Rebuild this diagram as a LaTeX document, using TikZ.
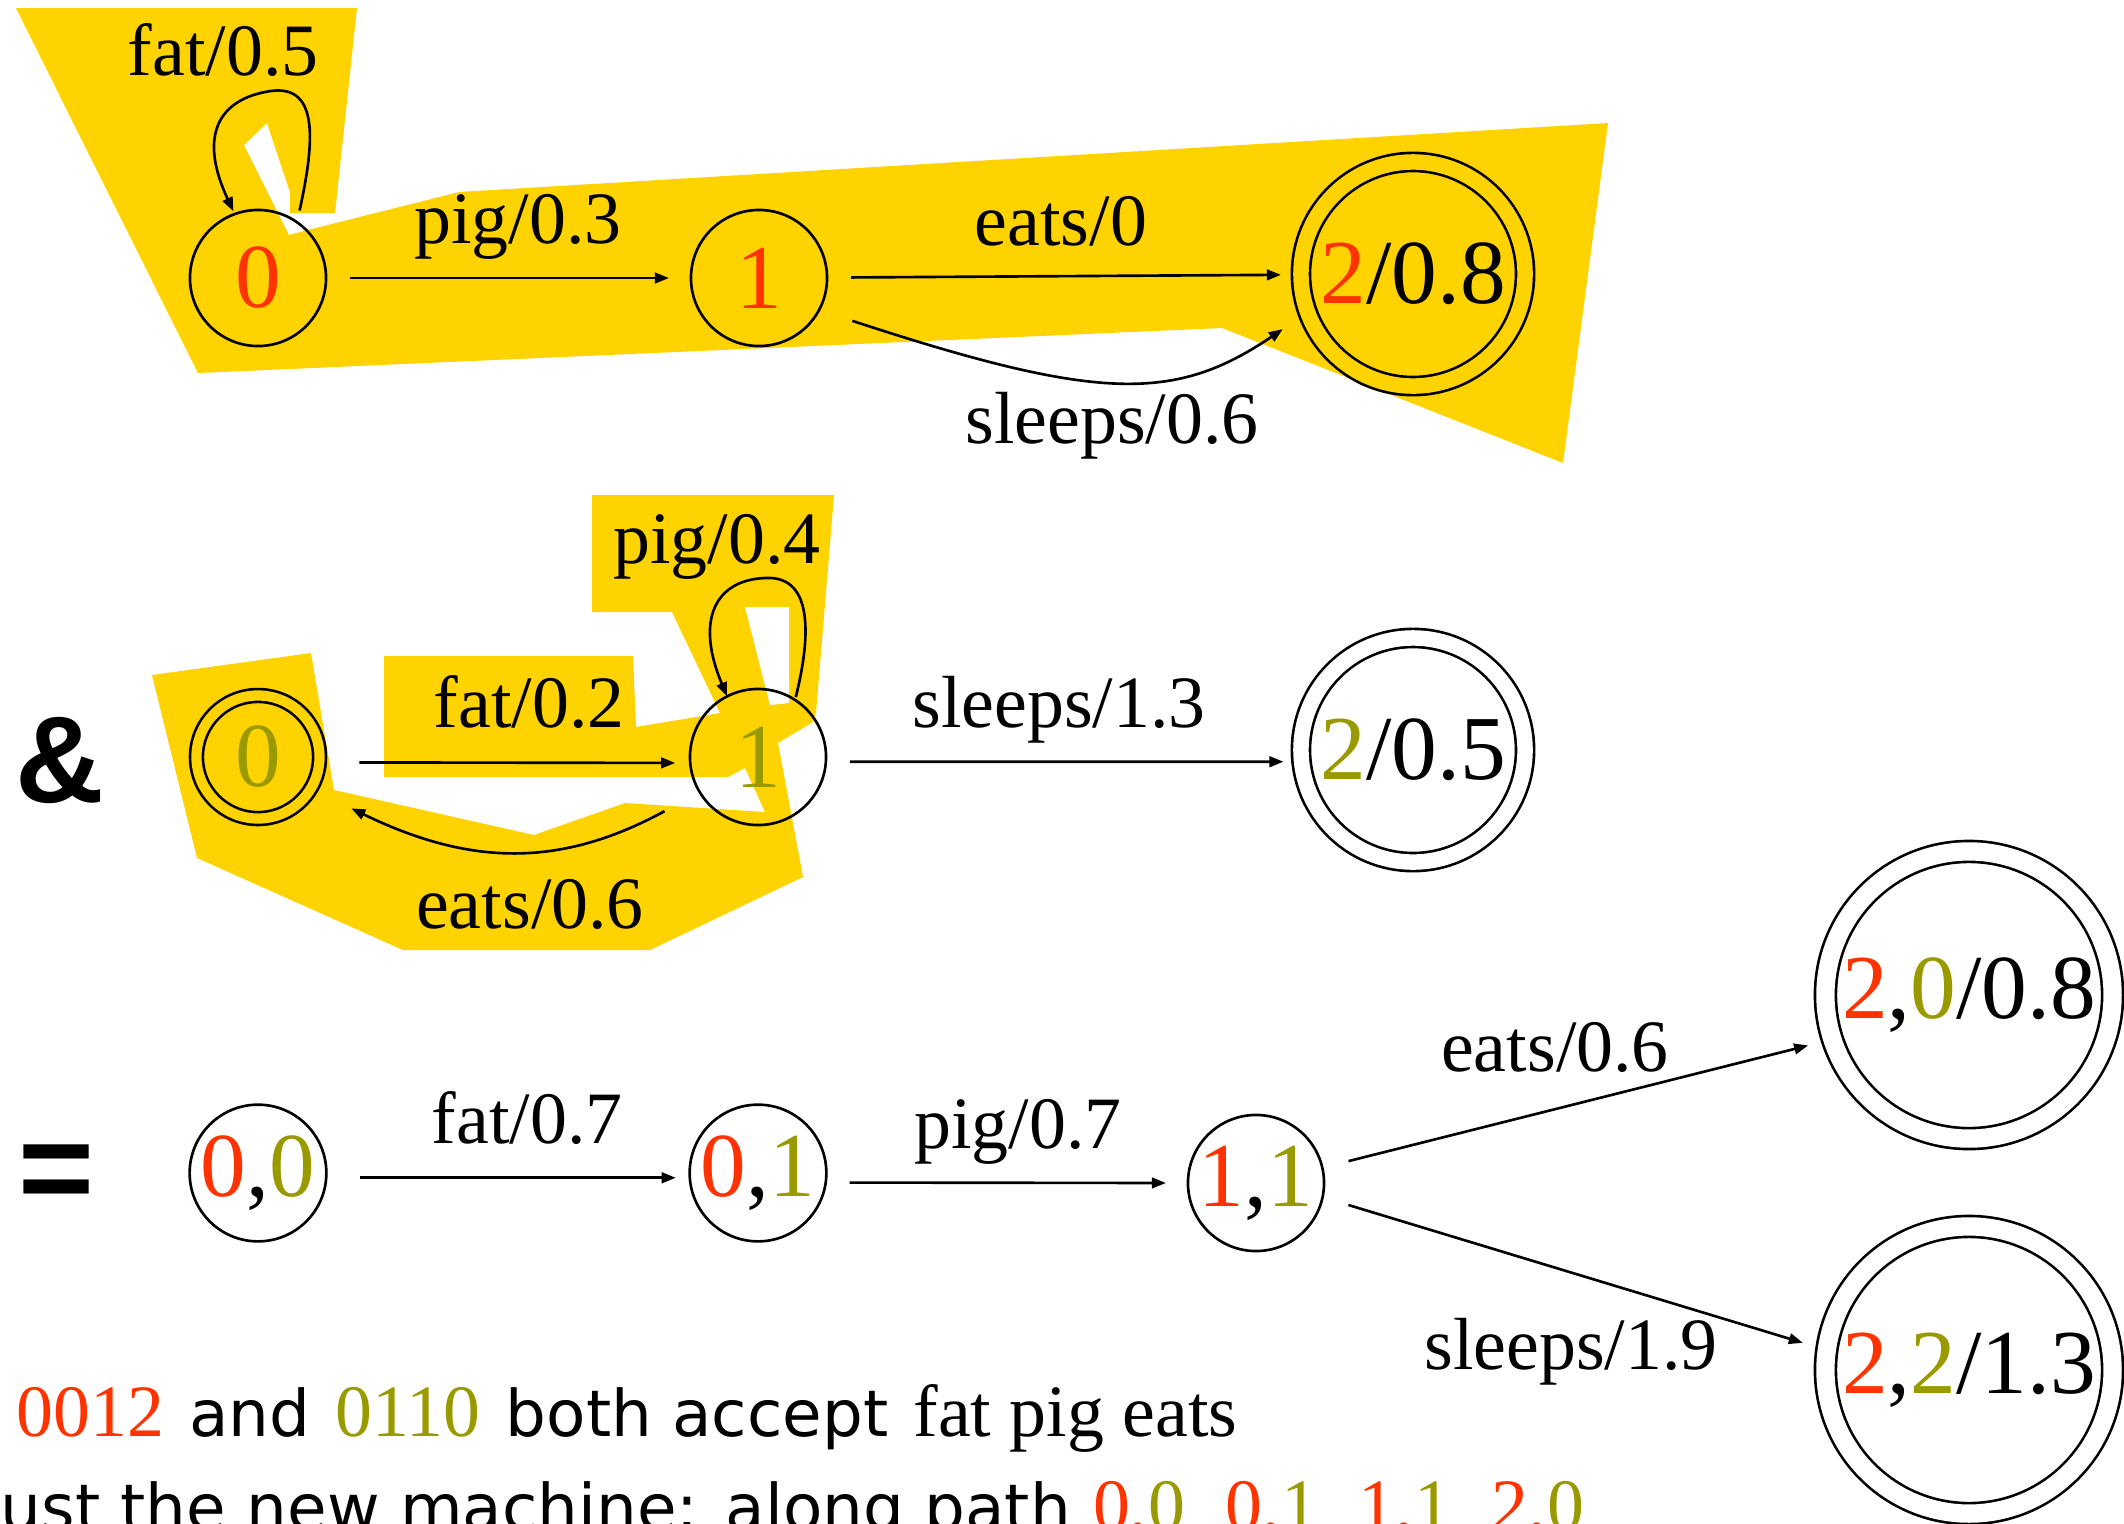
\documentclass[tikz,border=0pt]{standalone}
\usepackage{fontspec}
\setmainfont{Liberation Serif}
\setsansfont{DejaVu Sans}
\newfontfamily\arialfont{Liberation Sans}
\usepackage{tikz}
\usetikzlibrary{arrows.meta}
\usepackage{xcolor}
\definecolor{hlyellow}{RGB}{255,211,0}
\definecolor{sred}{RGB}{255,51,0}
\definecolor{solive}{RGB}{153,153,0}
\tikzset{
  st/.style={
    circle, draw, line width=0.75pt,
    inner sep=0pt, outer sep=0pt,
    minimum size=1.36cm,
    font=\fontsize{26}{30}\selectfont
  },
  stF/.style={
    st, double=white, double distance=4.4pt,
    minimum size=2.24cm
  },
  stFL/.style={
    stF, double distance=5.2pt, minimum size=2.87cm
  },
  stFS/.style={
    st, double=hlyellow, double distance=2.9pt,
    minimum size=1.23cm
  },
  lbl/.style={
    font=\fontsize{21}{25}\selectfont, anchor=base, inner sep=0pt
  },
  txt/.style={
    font=\fontsize{21}{25}\selectfont, anchor=base west, inner sep=0pt
  },
  sym/.style={
    font=\arialfont\bfseries\fontsize{#1}{#1}\selectfont, inner sep=0pt
  },
  arr/.style={-{Triangle[length=4pt, width=3pt]}, line width=0.75pt,
    shorten <=0.24cm, shorten >=0.22cm}
}

\begin{document}
\begin{tikzpicture}[x=0.01cm, y=-0.01cm]

    \useasboundingbox (0,0) rectangle (2124,1523);
    \clip (0,0) rectangle (2124,1523);

    %% Highlighted paths
    \fill[hlyellow] (16,8) -- (357,8) -- (335,213) -- (290,213) -- (290,192)
      -- (267,123) -- (244,145) -- (289,235) -- (308,230) -- (459,192)
      -- (1608,123) -- (1563,463) -- (1222,328) -- (198,373) -- cycle;
    \fill[hlyellow] (592,495) -- (834,495) -- (816,713) -- (813,722)
      -- (778,743) -- (803,877) -- (650,950) -- (403,950) -- (197,858)
      -- (152,675) -- (311,653) -- (334,790) -- (534,835) -- (625,803)
      -- (765,812) -- (745,768) -- (728,777) -- (384,777) -- (384,656)
      -- (633,656) -- (636,727) -- (720,713) -- (672,612) -- (592,612) -- cycle;
    \fill[white] (745,607) -- (789,607) -- (789,703) -- (770,705) -- cycle;

    %% First machine
    \node[st] (q0) at (258,278) {\textcolor{sred}{0}};
    \node[st] (q1) at (759,278) {\textcolor{sred}{1}};
    \node[stF, double=hlyellow] (q2) at (1413,274) {\textcolor{sred}{2}/0.8};

    \draw[arr, shorten <=0.12cm, shorten >=0.03cm]
      (q0.55) .. controls (315,140) and (320,80) .. (265,92)
      .. controls (215,102) and (200,140) .. (q0.110);
    \draw[arr] (q0) -- (q1);
    \draw[arr, shorten >=0.2cm] (q1) -- (q2);
    \draw[arr, shorten <=0.35cm, shorten >=0.3cm]
      (q1.-28) .. controls (1100,402) and (1175,402) .. (q2.200);

    \node[lbl] (lfatA) at (223,75) {fat/0.5};
    \node[lbl] (lpigA) at (518,243) {pig/0.3};
    \node[lbl] (leatsA) at (1061,245) {eats/0};
    \node[lbl] (lsleepsA) at (1112,443) {sleeps/0.6};

    %% Second machine
    \node[sym=35] (amp) at (60,761) {\&};
    \node[stFS] (m0) at (258,757) {\textcolor{solive}{0}};
    \node[st] (m1) at (758,757) {\textcolor{solive}{1}};
    \node[stF] (m2) at (1413,750) {\textcolor{solive}{2}/0.5};

    \draw[arr, shorten <=0.03cm, shorten >=0cm]
      (m1.57) .. controls (810,640) and (815,575) .. (765,578)
      .. controls (715,580) and (695,620) .. (m1.117);
    \draw[arr, shorten <=0.4cm, shorten >=0.15cm] (m0.-5) -- (m1.185);
    \draw[arr, shorten >=0.18cm] (m1.-4) -- (m2.186);
    \draw[arr, shorten <=0.4cm, shorten >=0.45cm]
      (m1.211) .. controls (560,868) and (470,866) .. (m0.-31);

    \node[lbl] (lpigB) at (717,563) {pig/0.4};
    \node[lbl] (lfatB) at (529,727) {fat/0.2};
    \node[lbl] (lsleepsB) at (1059,727) {sleeps/1.3};
    \node[lbl] (leatsB) at (530,928) {eats/0.6};

    %% Composed machine
    \node[sym=37] (eq) at (56,1179) {=};
    \node[st] (b00) at (258,1173) {\textcolor{sred}{0},\textcolor{solive}{0}};
    \node[st] (b01) at (758,1173) {\textcolor{sred}{0},\textcolor{solive}{1}};
    \node[st] (b11) at (1256,1183) {\textcolor{sred}{1},\textcolor{solive}{1}};
    \node[stFL] (b20) at (1969,995) {\textcolor{sred}{2},\textcolor{solive}{0}/0.8};
    \node[stFL] (b22) at (1969,1370) {\textcolor{sred}{2},\textcolor{solive}{2}/1.3};

    \draw[arr, shorten <=0.34cm, shorten >=0.14cm] (b00.-4) -- (b01.184);
    \draw[arr] (b01.-8) -- (b11.west);
    \draw[arr, shorten <=0.27cm, shorten >=0.25cm] (b11.13) -- (b20.198);
    \draw[arr, shorten <=0.27cm, shorten >=0.25cm] (b11.-12) -- (b22.172);

    \node[lbl] (lfatC) at (527,1143) {fat/0.7};
    \node[lbl] (lpigC) at (1018,1148) {pig/0.7};
    \node[lbl] (leatsC) at (1555,1071) {eats/0.6};
    \node[lbl] (lsleepsC) at (1571,1369) {sleeps/1.9};

    %% Text below
    \node[txt] (noteA) at (16,1436) {\textcolor{sred}{0012}\hspace{0.34em}%
      {\sffamily\fontsize{18.3}{22}\selectfont and}\hspace{0.34em}%
      \textcolor{solive}{0110}\hspace{0.34em}%
      {\sffamily\fontsize{18.3}{22}\selectfont both accept}\hspace{0.34em}%
      fat pig eats};
    \node[txt] (noteB) at (0,1530) {{\sffamily\fontsize{18.3}{22}\selectfont
      ust the new machine: along path}\hspace{0.3em}%
      \textcolor{sred}{0,}\textcolor{solive}{0}\hspace{0.55em}%
      \textcolor{sred}{0,}\textcolor{solive}{1}\hspace{0.55em}%
      \textcolor{sred}{1,}\textcolor{solive}{1}\hspace{0.55em}%
      \textcolor{sred}{2,}\textcolor{solive}{0}};

\end{tikzpicture}
\end{document}
